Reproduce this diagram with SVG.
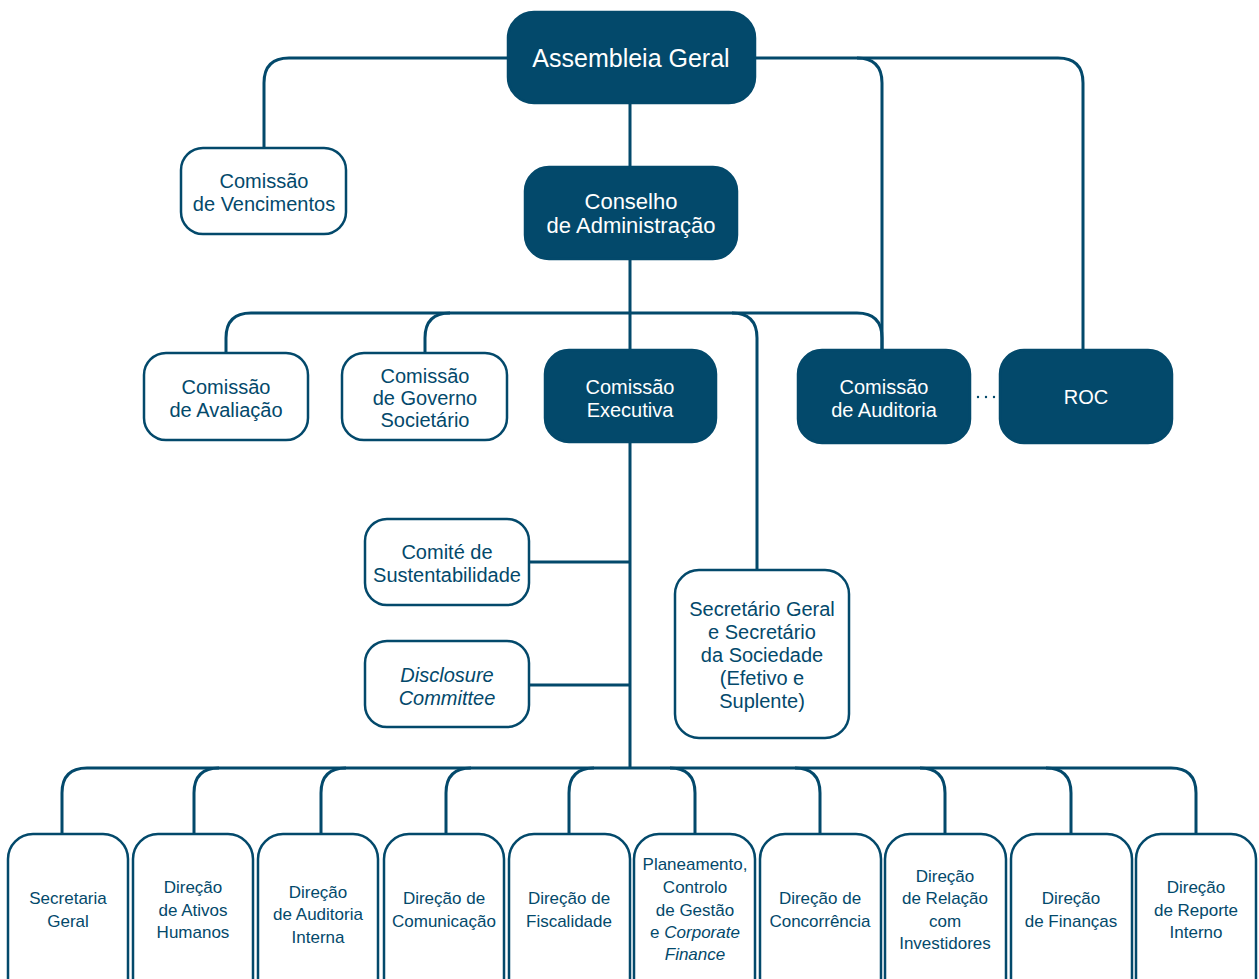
<svg xmlns="http://www.w3.org/2000/svg" width="1259" height="979" viewBox="0 0 1259 979">
<style>
.ln{fill:none;stroke:#03496b;stroke-width:3}
.dk{fill:#03496b;stroke:#03496b;stroke-width:2.5}
.lt{fill:#fff;stroke:#03496b;stroke-width:2.5}
text{font-family:"Liberation Sans","Open Sans",sans-serif;text-anchor:middle}
.tw{fill:#fff}
.tb{fill:#03496b}
.m{font-size:20px}
.s{font-size:17px}
.i{font-style:italic}
</style>
<rect width="1259" height="979" fill="#fff"/>
<g id="connectors">
<path class="ln" d="M264,148 V83 Q264,58 289,58 H1058 Q1083,58 1083,83 V350"/>
<path class="ln" d="M857,58 Q882,58 882,83 V350"/>
<path class="ln" d="M630,103 V768"/>
<path class="ln" d="M226,353 V338 Q226,313 251,313 H857 Q882,313 882,338 V350"/>
<path class="ln" d="M425,353 V338 Q425,313 450,313"/>
<path class="ln" d="M732,313 Q757,313 757,338 V570"/>
<path class="ln" d="M529,562 H630 M529,685 H630"/>
<path class="ln" d="M62,834 V793 Q62,768 87,768 H1171 Q1196,768 1196,793 V834"/>
<path class="ln" d="M194,834 V793 Q194,768 219,768"/>
<path class="ln" d="M321,834 V793 Q321,768 346,768"/>
<path class="ln" d="M446,834 V793 Q446,768 471,768"/>
<path class="ln" d="M569,834 V793 Q569,768 594,768"/>
<path class="ln" d="M670,768 Q695,768 695,793 V834"/>
<path class="ln" d="M795,768 Q820,768 820,793 V834"/>
<path class="ln" d="M920,768 Q945,768 945,793 V834"/>
<path class="ln" d="M1046,768 Q1071,768 1071,793 V834"/>
<path d="M978,397 H996" fill="none" stroke="#03496b" stroke-width="2.4" stroke-linecap="round" stroke-dasharray="0 8"/>
</g>
<g id="assembleia"><rect class="dk" x="508" y="12" width="247" height="91" rx="26"/><text class="tw" x="631" y="67" font-size="25">Assembleia Geral</text></g>
<g id="vencimentos"><rect class="lt" x="181" y="148" width="165" height="86" rx="22"/><text class="tb m" x="264" y="188">Comissão</text><text class="tb m" x="264" y="211">de Vencimentos</text></g>
<g id="conselho"><rect class="dk" x="525" y="167" width="212" height="92" rx="24"/><text class="tw" font-size="22" x="631" y="209">Conselho</text><text class="tw" font-size="22" x="631" y="233">de Administração</text></g>
<g id="avaliacao"><rect class="lt" x="144" y="353" width="164" height="87" rx="22"/><text class="tb m" x="226" y="394">Comissão</text><text class="tb m" x="226" y="417">de Avaliação</text></g>
<g id="governo"><rect class="lt" x="342" y="353" width="165" height="87" rx="22"/><text class="tb m" x="425" y="383">Comissão</text><text class="tb m" x="425" y="405">de Governo</text><text class="tb m" x="425" y="427">Societário</text></g>
<g id="executiva"><rect class="dk" x="545" y="350" width="171" height="92" rx="24"/><text class="tw m" x="630" y="394">Comissão</text><text class="tw m" x="630" y="417">Executiva</text></g>
<g id="auditoria"><rect class="dk" x="798" y="350" width="172" height="93" rx="24"/><text class="tw m" x="884" y="394">Comissão</text><text class="tw m" x="884" y="417">de Auditoria</text></g>
<g id="roc"><rect class="dk" x="1000" y="350" width="172" height="93" rx="24"/><text class="tw m" x="1086" y="404">ROC</text></g>
<g id="sustentabilidade"><rect class="lt" x="365" y="519" width="164" height="86" rx="22"/><text class="tb m" x="447" y="559">Comité de</text><text class="tb m" x="447" y="582">Sustentabilidade</text></g>
<g id="disclosure"><rect class="lt" x="365" y="641" width="164" height="86" rx="22"/><text class="tb m i" x="447" y="682">Disclosure</text><text class="tb m i" x="447" y="705">Committee</text></g>
<g id="secretario"><rect class="lt" x="675" y="570" width="174" height="168" rx="24"/><text class="tb m" x="762" y="616">Secretário Geral</text><text class="tb m" x="762" y="639">e Secretário</text><text class="tb m" x="762" y="662">da Sociedade</text><text class="tb m" x="762" y="685">(Efetivo e</text><text class="tb m" x="762" y="708">Suplente)</text></g>
<g id="secretaria-geral"><rect class="lt" x="8" y="834" width="120" height="170" rx="25"/><text class="tb s" x="68" y="904">Secretaria</text><text class="tb s" x="68" y="927">Geral</text></g>
<g id="ativos-humanos"><rect class="lt" x="133" y="834" width="120" height="170" rx="25"/><text class="tb s" x="193" y="893">Direção</text><text class="tb s" x="193" y="916">de Ativos</text><text class="tb s" x="193" y="938">Humanos</text></g>
<g id="auditoria-interna"><rect class="lt" x="258" y="834" width="120" height="170" rx="25"/><text class="tb s" x="318" y="898">Direção</text><text class="tb s" x="318" y="920">de Auditoria</text><text class="tb s" x="318" y="943">Interna</text></g>
<g id="comunicacao"><rect class="lt" x="384" y="834" width="120" height="170" rx="25"/><text class="tb s" x="444" y="904">Direção de</text><text class="tb s" x="444" y="927">Comunicação</text></g>
<g id="fiscalidade"><rect class="lt" x="509" y="834" width="121" height="170" rx="25"/><text class="tb s" x="569" y="904">Direção de</text><text class="tb s" x="569" y="927">Fiscalidade</text></g>
<g id="planeamento"><rect class="lt" x="634" y="834" width="121" height="170" rx="25"/><text class="tb s" x="695" y="870">Planeamento,</text><text class="tb s" x="695" y="893">Controlo</text><text class="tb s" x="695" y="916">de Gestão</text><text class="tb s" x="695" y="938">e <tspan font-style="italic">Corporate</tspan></text><text class="tb s i" x="695" y="960">Finance</text></g>
<g id="concorrencia"><rect class="lt" x="760" y="834" width="121" height="170" rx="25"/><text class="tb s" x="820" y="904">Direção de</text><text class="tb s" x="820" y="927">Concorrência</text></g>
<g id="relacao-investidores"><rect class="lt" x="885" y="834" width="121" height="170" rx="25"/><text class="tb s" x="945" y="882">Direção</text><text class="tb s" x="945" y="904">de Relação</text><text class="tb s" x="945" y="927">com</text><text class="tb s" x="945" y="949">Investidores</text></g>
<g id="financas"><rect class="lt" x="1011" y="834" width="121" height="170" rx="25"/><text class="tb s" x="1071" y="904">Direção</text><text class="tb s" x="1071" y="927">de Finanças</text></g>
<g id="reporte-interno"><rect class="lt" x="1136" y="834" width="120" height="170" rx="25"/><text class="tb s" x="1196" y="893">Direção</text><text class="tb s" x="1196" y="916">de Reporte</text><text class="tb s" x="1196" y="938">Interno</text></g>
</svg>
